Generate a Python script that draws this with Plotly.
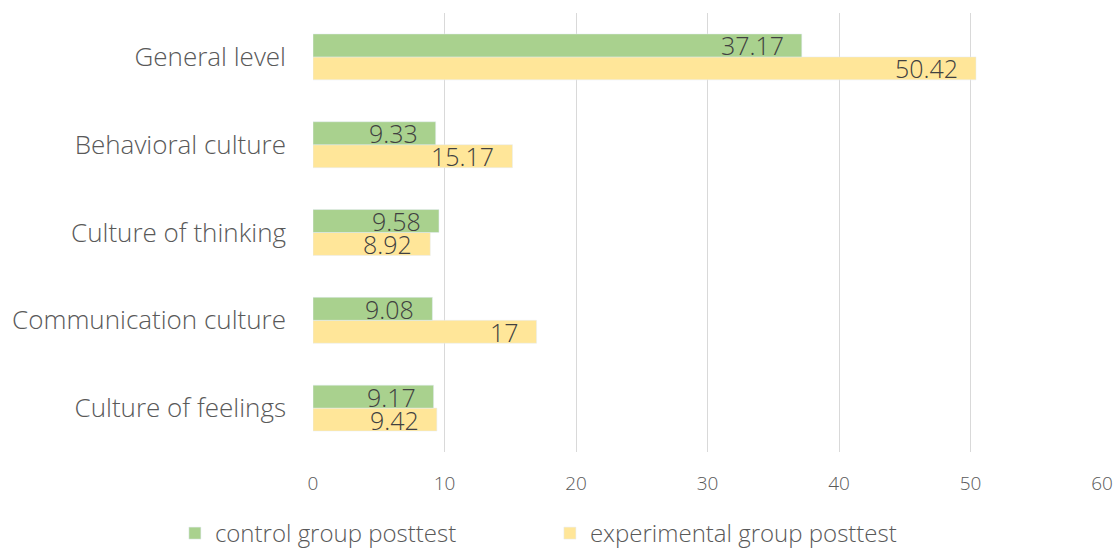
import plotly.graph_objects as go

categories = ["Culture of feelings", "Communication culture", "Culture of thinking",
              "Behavioral culture", "General level"]
control = [9.17, 9.08, 9.58, 9.33, 37.17]
experimental = [9.42, 17, 8.92, 15.17, 50.42]
x_ticks = [0, 10, 20, 30, 40, 50, 60]

FONT = "Open Sans"
TXT = "#595959"
LBL = "#404040"

fig = go.Figure()
fig.add_trace(go.Bar(
    y=categories, x=experimental, orientation="h", name="experimental group posttest",
    marker=dict(color="#FFE699"),
))
fig.add_trace(go.Bar(
    y=categories, x=control, orientation="h", name="control group posttest",
    marker=dict(color="#A9D18E"),
))

annotations = []
for cat, c, e in zip(categories, control, experimental):
    for val, ys in ((c, 11.5), (e, -11.5)):
        annotations.append(dict(
            x=val, y=cat, xref="x", yref="y", text=f"{val:g}", showarrow=False,
            xanchor="right", yanchor="middle", xshift=-16, yshift=ys,
            font=dict(family=FONT, size=25, color=LBL, weight=300),
        ))

fig.update_layout(
    width=1114, height=550,
    margin=dict(l=313, r=12, t=13, b=98),
    paper_bgcolor="white", plot_bgcolor="white",
    barmode="group", bargap=0.477, bargroupgap=0,
    font=dict(family=FONT, color=TXT, weight=300),
    annotations=annotations,
    xaxis=dict(range=[0, 60], tickvals=x_ticks, showgrid=True, gridcolor="#D9D9D9",
               gridwidth=1.3, zeroline=False, showline=False, automargin=False,
               tickfont=dict(size=19, color=TXT, family=FONT, weight=300), ticks="",
               ticklabelstandoff=18),
    yaxis=dict(showgrid=False, showline=False, ticks="", zeroline=False, automargin=False,
               tickfont=dict(size=26, color=TXT, family=FONT, weight=300),
               ticklabelstandoff=26),
    showlegend=True,
    legend=dict(orientation="h", traceorder="reversed", xref="container", yref="container",
                x=0.157, xanchor="left", y=0.03, yanchor="middle",
                font=dict(size=24, color=TXT, family=FONT, weight=300),
                entrywidth=330, entrywidthmode="pixels"),
)

fig.write_html("out.html")
